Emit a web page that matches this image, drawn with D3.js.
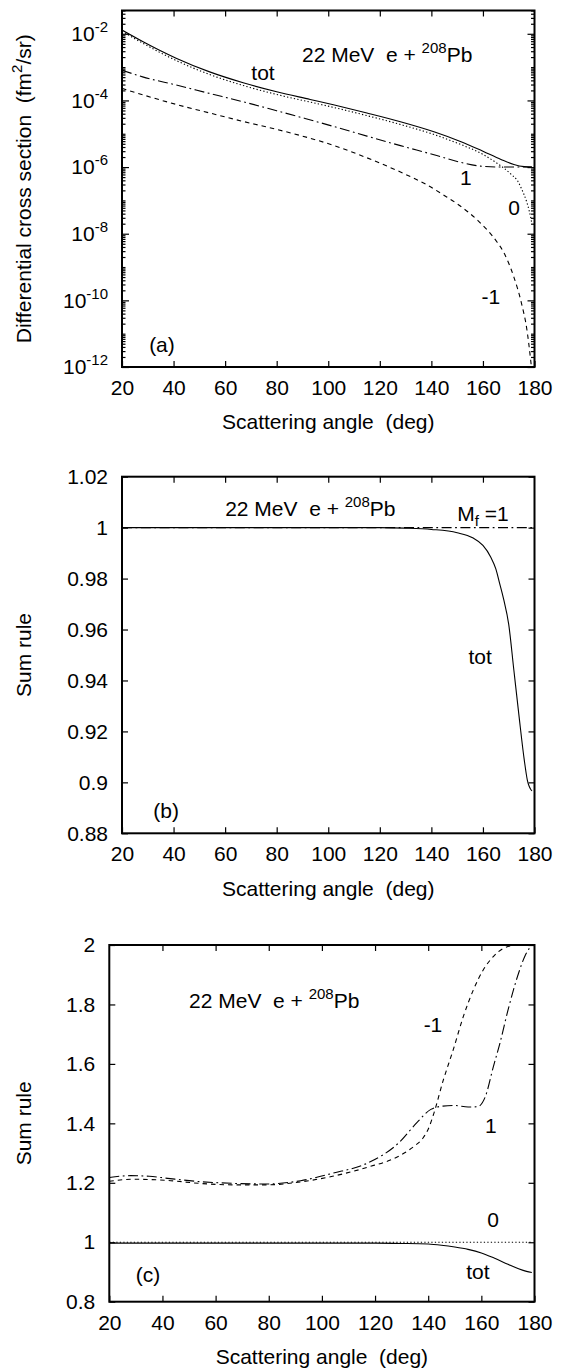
<!DOCTYPE html>
<html>
<head>
<meta charset="utf-8">
<script src="https://cdn.jsdelivr.net/npm/d3@7"></script>
<style>
  body { margin: 0; background: #fff; }
  svg text { font-family: "Liberation Sans", Arial, Helvetica, sans-serif; fill: #000; white-space: pre; }
</style>
</head>
<body>
<svg id="fig" width="562" height="1368"></svg>
<script>
// ---------------- data ----------------
const angleTicks = [20, 40, 60, 80, 100, 120, 140, 160, 180];

// (a) differential cross sections (fm^2/sr) for final projections M_f = 0, 1, -1 and their total
const angleTotA = [20, 28, 41, 54, 67, 80, 93, 102, 115, 128, 141, 151, 160, 167, 172, 176, 179];
const sigmaTotA = [1.3e-2, 5.9e-3, 1.86e-3, 7.2e-4, 3.4e-4, 1.82e-4, 1.07e-4, 7.4e-5, 4.2e-5, 2.3e-5, 1.15e-5, 6.0e-6, 3.0e-6, 1.7e-6, 1.2e-6, 1.03e-6, 1.0e-6];

const angleM0A = [20, 28, 41, 54, 67, 80, 93, 102, 115, 128, 141, 151, 160, 165, 168, 171, 173.5, 175, 177, 178, 179];
const sigmaM0A = [1.2e-2, 5.25e-3, 1.58e-3, 6.0e-4, 2.8e-4, 1.51e-4, 8.9e-5, 6.2e-5, 3.5e-5, 1.9e-5, 9.5e-6, 4.9e-6, 2.4e-6, 1.38e-6, 9.5e-7, 6.0e-7, 3.8e-7, 2.2e-7, 8.9e-8, 4.7e-8, 2.0e-8];

const angleMp1A = [20, 28, 41, 54, 67, 80, 91, 102, 115, 128, 141, 151, 159, 167, 179];
const sigmaMp1A = [8.1e-4, 5.1e-4, 2.9e-4, 1.62e-4, 9.1e-5, 4.9e-5, 2.88e-5, 1.66e-5, 8.5e-6, 4.4e-6, 2.34e-6, 1.41e-6, 1.07e-6, 1.0e-6, 1.0e-6];

const angleMm1A = [20, 28, 41, 54, 67, 80, 90, 102, 115, 128, 138, 145, 150, 158, 165, 168, 172, 175, 177, 178.6, 179.2];
const sigmaMm1A = [2.3e-4, 1.48e-4, 7.6e-5, 4.2e-5, 2.34e-5, 1.35e-5, 8.5e-6, 4.5e-6, 1.9e-6, 7.1e-7, 3.0e-7, 1.41e-7, 7.9e-8, 2.5e-8, 6.3e-9, 2.8e-9, 5.0e-10, 7.9e-11, 1.4e-11, 1.4e-12, 5e-13];

const logMajorA = [1e-12, 1e-10, 1e-8, 1e-6, 1e-4, 1e-2];

// (b) sum rule
const angleTotB = [20, 60, 100, 120, 130, 140, 150, 156, 160, 163, 165, 166.5, 168, 170, 172, 174, 176, 177.2, 179];
const sumTotB   = [1.0, 1.0, 1.0, 1.0, 0.9998, 0.9993, 0.998, 0.996, 0.993, 0.9885, 0.9838, 0.978, 0.972, 0.962, 0.944, 0.926, 0.909, 0.901, 0.8966];
const angleMp1B = [20, 179];
const sumMp1B   = [1.0, 1.0];
const ticksB = [0.88, 0.9, 0.92, 0.94, 0.96, 0.98, 1, 1.02];

// (c) sum rule per projection
const angleMp1C = [20, 28, 35, 42, 54, 67, 79, 92, 104, 117, 129, 136, 141, 145.5, 150, 155, 158.5, 161.5, 164.5, 167, 170, 174, 176.5, 179];
const sumMp1C   = [1.218, 1.224, 1.222, 1.215, 1.204, 1.198, 1.196, 1.207, 1.232, 1.266, 1.335, 1.405, 1.447, 1.458, 1.46, 1.455, 1.456, 1.49, 1.59, 1.67, 1.78, 1.905, 1.965, 2.0];
const angleMm1C = [20, 29, 42, 54, 67, 79, 92, 104, 117, 129, 135, 138, 140, 142, 145.7, 149.4, 153.2, 157, 160.7, 164.5, 168.4, 173.8, 179];
const sumMm1C   = [1.205, 1.212, 1.208, 1.198, 1.193, 1.193, 1.203, 1.222, 1.252, 1.29, 1.325, 1.35, 1.38, 1.43, 1.546, 1.647, 1.759, 1.849, 1.916, 1.961, 1.989, 2.0, 2.0];
const angleM0C  = [20, 179];
const sumM0C    = [1.0, 1.0];
const angleTotC = [20, 60, 100, 120, 130, 140, 145, 150, 155, 160, 165, 170, 174, 177, 179];
const sumTotC   = [0.997, 0.997, 0.997, 0.997, 0.996, 0.994, 0.99, 0.984, 0.976, 0.964, 0.946, 0.926, 0.911, 0.902, 0.898];
const ticksC = [0.8, 1, 1.2, 1.4, 1.6, 1.8, 2];

// ---------------- drawing ----------------
const svg = d3.select("#fig");
const FONT = 21, SUP = 15;
const STYLE = {
  solid:   null,
  dotted:  "1.3,2.2",
  dashed:  "4.5,4",
  dashdot: "10,3.5,1.8,3.5"
};

function zipSeries(xs, ys) { return xs.map((a, i) => [a, ys[i]]); }

function styleAxis(sel) {
  sel.select(".domain").remove();
  sel.attr("font-size", FONT).attr("font-family", null);
  sel.selectAll(".tick line").attr("stroke-width", 1.2);
}

function panel(cfg, idx) {
  const g = svg.append("g");
  const x = d3.scaleLinear().domain([20, 180]).range([cfg.left, cfg.right]);
  const y = (cfg.log ? d3.scaleLog() : d3.scaleLinear()).domain(cfg.yDomain).range([cfg.bottom, cfg.top]);

  const clipId = "clip" + idx;
  g.append("clipPath").attr("id", clipId).append("rect")
    .attr("x", cfg.left).attr("y", cfg.top)
    .attr("width", cfg.right - cfg.left).attr("height", cfg.bottom - cfg.top);

  const line = d3.line().x(d => x(d[0])).y(d => y(d[1])).curve(d3.curveMonotoneX);
  const curves = g.append("g").attr("clip-path", `url(#${clipId})`);
  cfg.series.forEach(s => {
    curves.append("path")
      .attr("d", line(zipSeries(s.x, s.y)))
      .attr("fill", "none")
      .attr("stroke", "#000")
      .attr("stroke-width", 1.1)
      .attr("stroke-dasharray", STYLE[s.style]);
  });

  // bottom axis with labels, ticks pointing inward
  g.append("g").attr("transform", `translate(0,${cfg.bottom})`)
    .call(d3.axisBottom(x).tickValues(angleTicks).tickSizeInner(-6).tickSizeOuter(0).tickPadding(13).tickFormat(d3.format("d")))
    .call(styleAxis);
  g.append("g").attr("transform", `translate(0,${cfg.top})`)
    .call(d3.axisTop(x).tickValues(angleTicks.slice(1, -1)).tickSizeInner(-6).tickSizeOuter(0).tickFormat(""))
    .call(styleAxis);

  // left / right axes
  if (cfg.log) {
    const [lo, hi] = cfg.yDomain;
    const minors = [];
    for (let n = -12; n <= -1; n++) {
      for (let k = 1; k <= 9; k++) {
        const v = k * Math.pow(10, n);
        if (v <= hi * 1.0001 && v >= lo && !cfg.yTicks.some(m => Math.abs(m - v) / v < 1e-6)) minors.push(v);
      }
    }
    const left = g.append("g").attr("transform", `translate(${cfg.left},0)`)
      .call(d3.axisLeft(y).tickValues(cfg.yTicks).tickSizeInner(-7).tickSizeOuter(0).tickPadding(14))
      .call(styleAxis);
    left.selectAll(".tick text").each(function (d) {
      const t = d3.select(this).text(null);
      t.append("tspan").text("10");
      t.append("tspan").attr("dy", -9).attr("font-size", SUP).text(String(Math.round(Math.log10(d))));
    });
    g.append("g").attr("transform", `translate(${cfg.left},0)`)
      .call(d3.axisLeft(y).tickValues(minors).tickSizeInner(-3.5).tickSizeOuter(0).tickFormat(""))
      .call(styleAxis);
    g.append("g").attr("transform", `translate(${cfg.right},0)`)
      .call(d3.axisRight(y).tickValues(cfg.yTicks).tickSizeInner(-7).tickSizeOuter(0).tickFormat(""))
      .call(styleAxis);
    g.append("g").attr("transform", `translate(${cfg.right},0)`)
      .call(d3.axisRight(y).tickValues(minors).tickSizeInner(-3.5).tickSizeOuter(0).tickFormat(""))
      .call(styleAxis);
  } else {
    g.append("g").attr("transform", `translate(${cfg.left},0)`)
      .call(d3.axisLeft(y).tickValues(cfg.yTicks).tickSizeInner(-6).tickSizeOuter(0).tickPadding(14).tickFormat(d => String(+d.toFixed(2))))
      .call(styleAxis);
    g.append("g").attr("transform", `translate(${cfg.right},0)`)
      .call(d3.axisRight(y).tickValues(cfg.yTicks).tickSizeInner(-6).tickSizeOuter(0).tickFormat(""))
      .call(styleAxis);
  }

  // frame
  g.append("rect")
    .attr("x", cfg.left).attr("y", cfg.top)
    .attr("width", cfg.right - cfg.left).attr("height", cfg.bottom - cfg.top)
    .attr("fill", "none").attr("stroke", "#000").attr("stroke-width", 2);

  // axis titles
  g.append("text")
    .attr("x", (cfg.left + cfg.right) / 2).attr("y", cfg.bottom + 55).attr("dy", "0.35em")
    .attr("text-anchor", "middle").attr("font-size", FONT)
    .text("Scattering angle  (deg)");
  const yt = g.append("text")
    .attr("transform", `translate(24,${(cfg.top + cfg.bottom) / 2}) rotate(-90)`)
    .attr("dy", "0.35em")
    .attr("text-anchor", "middle").attr("font-size", FONT);
  cfg.yTitle.forEach(part => {
    const ts = yt.append("tspan").text(part.t);
    if (part.sup) ts.attr("font-size", SUP).attr("dy", -9);
    if (part.back) ts.attr("dy", 9);
  });

  // in-plot annotations, placed in data coordinates
  cfg.notes.forEach(n => {
    const t = g.append("text")
      .attr("x", x(n.at[0])).attr("y", y(n.at[1])).attr("dy", "0.35em")
      .attr("text-anchor", n.anchor || "middle").attr("font-size", FONT);
    n.parts.forEach(p => {
      const ts = t.append("tspan").text(p.t);
      if (p.sup) ts.attr("font-size", SUP).attr("dy", -9);
      if (p.sub) ts.attr("font-size", SUP).attr("dy", 5);
      if (p.back !== undefined) ts.attr("dy", p.back);
    });
  });
}

const reaction = [{ t: "22 MeV  e + " }, { t: "208", sup: true }, { t: "Pb", back: 9 }];

panel({
  left: 122, right: 534.5, top: 10.5, bottom: 367,
  log: true, yDomain: [1e-12, 0.05], yTicks: logMajorA,
  series: [
    { x: angleTotA, y: sigmaTotA, style: "solid" },
    { x: angleM0A,  y: sigmaM0A,  style: "dotted" },
    { x: angleMp1A, y: sigmaMp1A, style: "dashdot" },
    { x: angleMm1A, y: sigmaMm1A, style: "dashed" }
  ],
  yTitle: [{ t: "Differential cross section  (fm" }, { t: "2", sup: true }, { t: "/sr)", back: 9 }],
  notes: [
    { at: [89.8, 2.3e-3], anchor: "start", parts: reaction },
    { at: [74.7, 6.65e-4], parts: [{ t: "tot" }] },
    { at: [153.4, 4.7e-7], parts: [{ t: "1" }] },
    { at: [172.1, 5.9e-8], parts: [{ t: "0" }] },
    { at: [163.1, 1.26e-10], parts: [{ t: "-1" }] },
    { at: [35.5, 4.6e-12], parts: [{ t: "(a)" }] }
  ]
}, 0);

panel({
  left: 122, right: 534.5, top: 476.7, bottom: 833.3,
  log: false, yDomain: [0.88, 1.02], yTicks: ticksB,
  series: [
    { x: angleTotB, y: sumTotB, style: "solid" },
    { x: angleMp1B, y: sumMp1B, style: "dashdot" }
  ],
  yTitle: [{ t: "Sum rule" }],
  notes: [
    { at: [60.0, 1.0075], anchor: "start", parts: reaction },
    { at: [150.0, 1.0054], anchor: "start", parts: [{ t: "M" }, { t: "f", sub: true }, { t: " =1", back: -5 }] },
    { at: [158.9, 0.9492], parts: [{ t: "tot" }] },
    { at: [37.1, 0.8887], parts: [{ t: "(b)" }] }
  ]
}, 1);

panel({
  left: 109.3, right: 534.5, top: 945, bottom: 1301.7,
  log: false, yDomain: [0.8, 2.0], yTicks: ticksC,
  series: [
    { x: angleTotC, y: sumTotC, style: "solid" },
    { x: angleM0C,  y: sumM0C,  style: "dotted" },
    { x: angleMp1C, y: sumMp1C, style: "dashdot" },
    { x: angleMm1C, y: sumMm1C, style: "dashed" }
  ],
  yTitle: [{ t: "Sum rule" }],
  notes: [
    { at: [50.0, 1.812], anchor: "start", parts: reaction },
    { at: [141.8, 1.731], parts: [{ t: "-1" }] },
    { at: [163.6, 1.391], parts: [{ t: "1" }] },
    { at: [164.4, 1.075], parts: [{ t: "0" }] },
    { at: [158.7, 0.900], parts: [{ t: "tot" }] },
    { at: [34.6, 0.890], parts: [{ t: "(c)" }] }
  ]
}, 2);
</script>
</body>
</html>
